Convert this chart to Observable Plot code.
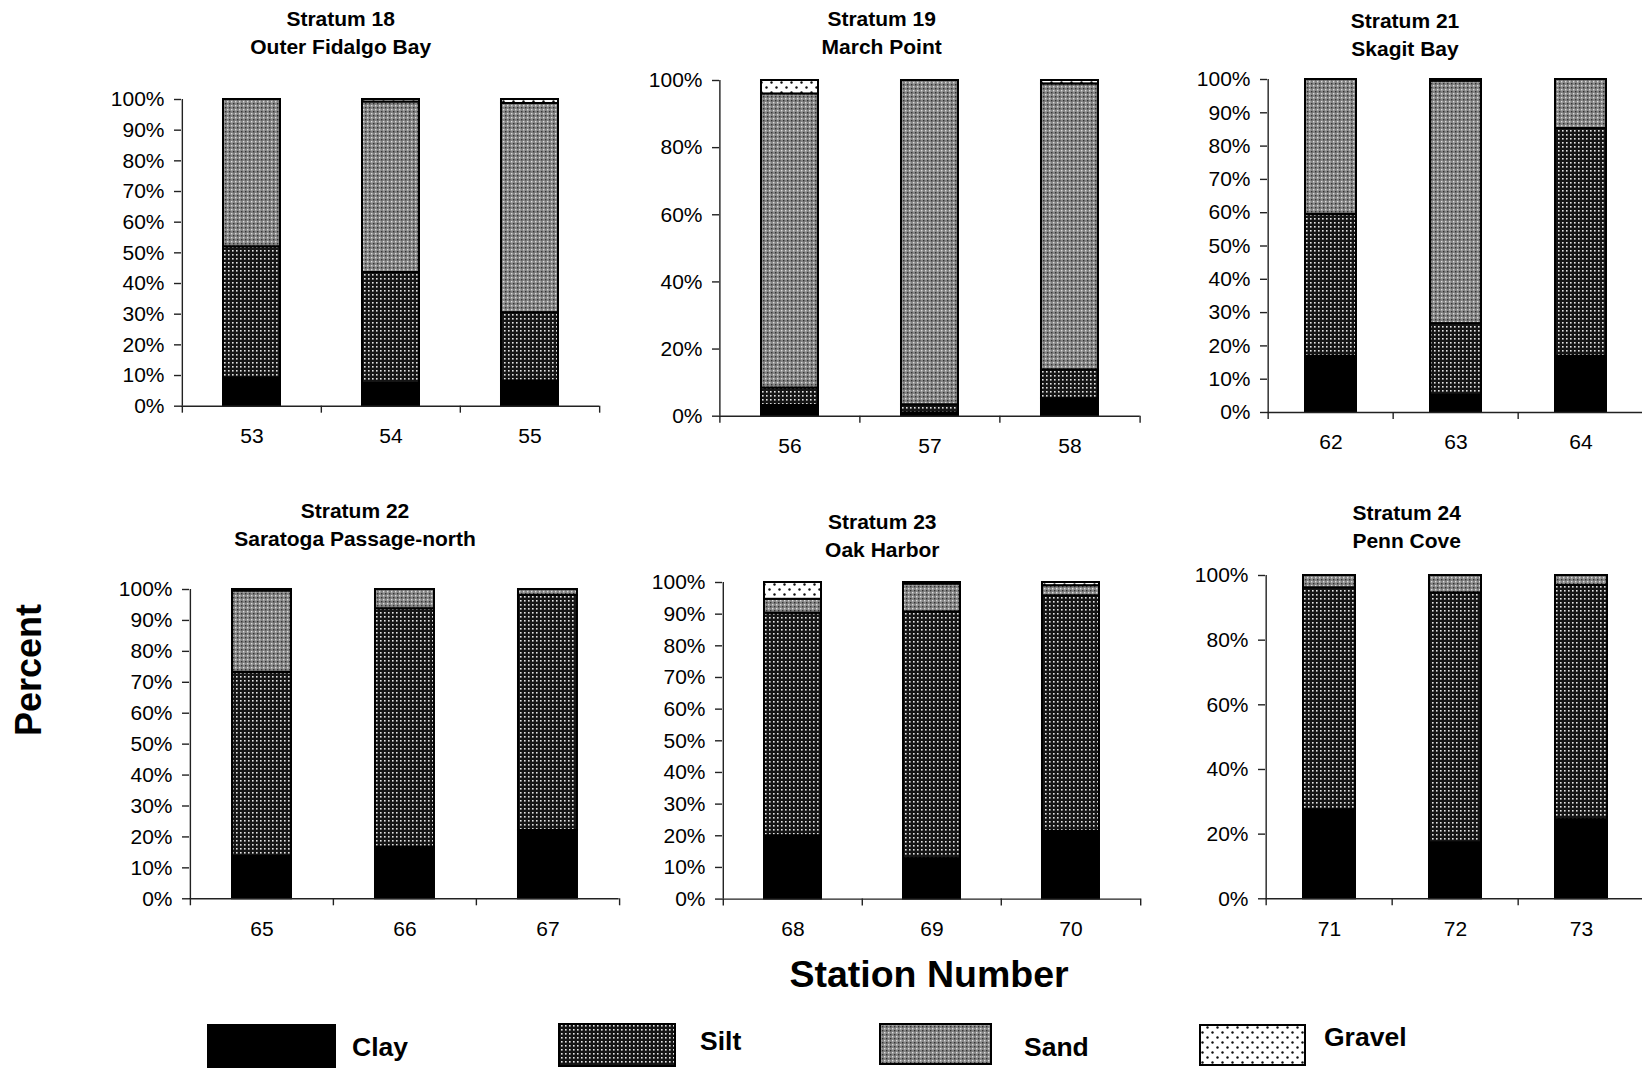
<!DOCTYPE html>
<html><head><meta charset="utf-8">
<script src="https://cdn.jsdelivr.net/npm/d3@7"></script>
<script src="https://cdn.jsdelivr.net/npm/@observablehq/plot@0.6"></script>
<style>
html,body{margin:0;padding:0;background:#fff;}
body{width:1642px;height:1068px;position:relative;overflow:hidden;font-family:"Liberation Sans",Arial,sans-serif;color:#000;}
.panel{position:absolute;}
.panel svg{max-width:none !important;overflow:visible;background:transparent !important;display:block;}
.title{position:absolute;transform:translateX(-50%);font-weight:bold;font-size:21px;line-height:28px;text-align:center;white-space:nowrap;}
.ylab{position:absolute;font-weight:bold;font-size:36px;transform:translate(-50%,-50%) rotate(-90deg);white-space:nowrap;}
.xlab{position:absolute;font-weight:bold;font-size:37.5px;transform:translate(-50%,-50%);white-space:nowrap;}
</style></head><body>
<svg width="0" height="0" style="position:absolute;left:0;top:0">
<defs>
  <pattern id="pat-clay" width="4" height="4" patternUnits="userSpaceOnUse"><rect width="4" height="4" fill="#000"/></pattern>
  <pattern id="pat-silt" width="4" height="4" patternUnits="userSpaceOnUse"><rect width="4" height="4" fill="#151515"/><rect x="1" y="1" width="1.6" height="1.6" fill="#e6e6e6"/></pattern>
  <pattern id="pat-sand" width="4" height="4" patternUnits="userSpaceOnUse"><rect width="4" height="4" fill="#858585"/><rect x="0" y="0" width="1.4" height="1.4" fill="#dcdcdc"/><rect x="2" y="2" width="1.4" height="1.4" fill="#333"/></pattern>
  <pattern id="pat-gravel" width="10" height="10" patternUnits="userSpaceOnUse"><rect width="10" height="10" fill="#fff"/><circle cx="2.5" cy="2.5" r="1.2" fill="#111"/><circle cx="7.5" cy="7.5" r="1.2" fill="#111"/></pattern>
</defs>
</svg>
<script>
// ---- data ----
const types = ["Clay", "Silt", "Sand", "Gravel"];
const patternFills = ["url(#pat-clay)", "url(#pat-silt)", "url(#pat-sand)", "url(#pat-gravel)"];

const strata = ["Stratum 18", "Stratum 19", "Stratum 21", "Stratum 22", "Stratum 23", "Stratum 24"];
const regions = ["Outer Fidalgo Bay", "March Point", "Skagit Bay", "Saratoga Passage-north", "Oak Harbor", "Penn Cove"];
const panelStations = [[53, 54, 55], [56, 57, 58], [62, 63, 64], [65, 66, 67], [68, 69, 70], [71, 72, 73]];

const stations = [53, 54, 55, 56, 57, 58, 62, 63, 64, 65, 66, 67, 68, 69, 70, 71, 72, 73];
const clay   = [9.2, 7.4, 8.2, 3.2, 1.0, 5.2, 16.9, 5.2, 16.9, 13.7, 16.7, 22.1, 20.0, 12.8, 21.4, 27.5, 17.3, 24.5];
const silt   = [42.8, 36.2, 22.3, 5.2, 2.4, 8.6, 42.6, 21.5, 68.4, 59.5, 77.1, 76.0, 70.3, 77.9, 74.4, 68.7, 77.3, 72.4];
const sand   = [48.0, 55.6, 68.2, 87.6, 96.6, 85.2, 40.5, 72.8, 14.7, 26.3, 6.2, 1.9, 4.4, 8.8, 3.2, 3.8, 5.4, 3.1];
const gravel = [0, 0.8, 1.3, 4.0, 0, 1.0, 0, 0.5, 0, 0.5, 0, 0, 5.3, 0.5, 1.0, 0, 0, 0];

const yTicks10 = [0, 10, 20, 30, 40, 50, 60, 70, 80, 90, 100];
const yTicks20 = [0, 20, 40, 60, 80, 100];
const panelTicks = [yTicks10, yTicks20, yTicks10, yTicks10, yTicks10, yTicks20];

const yTitle = "Percent";
const xTitle = "Station Number";

// ---- layout (pixels) ----
const layout = [
  {axisX: 181,   xEnd: 599,  yTop: 99.3,  yBottom: 406,   titleX: 340.7,  titleY: 19},
  {axisX: 719.3, xEnd: 1140, yTop: 80,    yBottom: 415.7, titleX: 881.7,  titleY: 19},
  {axisX: 1267,  xEnd: 1644, yTop: 79.3,  yBottom: 412.3, titleX: 1405,   titleY: 20.7},
  {axisX: 189.3, xEnd: 619,  yTop: 589,   yBottom: 898.3, titleX: 355,    titleY: 511},
  {axisX: 721.7, xEnd: 1140, yTop: 581.7, yBottom: 898.3, titleX: 882.3,  titleY: 521.7},
  {axisX: 1265,  xEnd: 1645, yTop: 575,   yBottom: 898.3, titleX: 1406.7, titleY: 513.3}
];

const values = {Clay: clay, Silt: silt, Sand: sand, Gravel: gravel};
const rows = [];
stations.forEach((s, i) => {
  types.forEach(t => {
    const v = values[t][i];
    if (v > 0) rows.push({station: s, type: t, value: v});
  });
});

const font = '"Liberation Sans", Arial, sans-serif';

panelStations.forEach((sts, p) => {
  const L = layout[p];
  const ml = 90, mr = 10, mt = 10, mb = 50;
  const w = L.xEnd - L.axisX;
  const h = L.yBottom - L.yTop;
  const step = w / sts.length;
  const k = h / 100;
  const data = rows.filter(r => sts.includes(r.station));

  const chart = Plot.plot({
    width: w + ml + mr,
    height: h + mt + mb,
    marginLeft: ml, marginRight: mr, marginTop: mt, marginBottom: mb,
    x: {type: "band", domain: sts, paddingInner: 0.59, paddingOuter: 0.295, axis: null},
    y: {domain: [0, 100], axis: null},
    color: {type: "ordinal", domain: types, range: patternFills},
    style: {fontFamily: font, fontSize: "21px", color: "#000", background: "transparent", overflow: "visible"},
    marks: [
      Plot.barY(data, {x: "station", y: "value", fill: "type", order: types, stroke: "#000", strokeWidth: 2}),
      Plot.ruleY([0], {stroke: "#222", strokeWidth: 1.4}),
      Plot.ruleX([sts[0]], {dx: -step / 2, y1: 0, y2: 100, stroke: "#222", strokeWidth: 1.4}),
      Plot.ruleX(sts, {dx: -step / 2, y1: 0, y2: -7 / k, stroke: "#222", strokeWidth: 1.4}),
      Plot.ruleX([sts[sts.length - 1]], {dx: step / 2, y1: 0, y2: -7 / k, stroke: "#222", strokeWidth: 1.4}),
      Plot.axisY({ticks: panelTicks[p], tickSize: 7, tickPadding: 10, tickFormat: d => d + "%", fontSize: 21, stroke: "#222", strokeWidth: 1.4, label: null}),
      Plot.axisX({tickSize: 0, tickPadding: 22, fontSize: 21, label: null})
    ]
  });
  const div = document.createElement("div");
  div.className = "panel";
  div.style.left = (L.axisX - ml) + "px";
  div.style.top = (L.yTop - mt) + "px";
  div.appendChild(chart);
  document.body.appendChild(div);

  const t = document.createElement("div");
  t.className = "title";
  t.style.left = L.titleX + "px";
  t.style.top = (L.titleY - 14) + "px";
  t.innerHTML = strata[p] + "<br>" + regions[p];
  document.body.appendChild(t);
});

const yl = document.createElement("div");
yl.className = "ylab"; yl.style.left = "29px"; yl.style.top = "670px"; yl.textContent = yTitle;
document.body.appendChild(yl);
const xl = document.createElement("div");
xl.className = "xlab"; xl.style.left = "929px"; xl.style.top = "974px"; xl.textContent = xTitle;
document.body.appendChild(xl);

// ---- legend ----
const legendLayout = [
  {x: 208, y: 1025, w: 127, h: 43, tx: 352, ty: 1047},
  {x: 559, y: 1024, w: 116, h: 42, tx: 700, ty: 1041},
  {x: 880, y: 1024, w: 111, h: 40, tx: 1024, ty: 1047},
  {x: 1200, y: 1025, w: 105, h: 40, tx: 1324, ty: 1037}
];
const ns = "http://www.w3.org/2000/svg";
const lg = document.createElementNS(ns, "svg");
lg.setAttribute("width", 1642); lg.setAttribute("height", 1068);
lg.style.position = "absolute"; lg.style.left = "0"; lg.style.top = "0"; lg.style.pointerEvents = "none";
types.forEach((t, i) => {
  const L = legendLayout[i];
  const r = document.createElementNS(ns, "rect");
  r.setAttribute("x", L.x); r.setAttribute("y", L.y); r.setAttribute("width", L.w); r.setAttribute("height", L.h);
  r.setAttribute("fill", patternFills[i]); r.setAttribute("stroke", "#000"); r.setAttribute("stroke-width", 2);
  lg.appendChild(r);
  const tx = document.createElementNS(ns, "text");
  tx.setAttribute("x", L.tx); tx.setAttribute("y", L.ty); tx.setAttribute("dy", "0.35em");
  tx.setAttribute("font-family", font); tx.setAttribute("font-weight", "bold"); tx.setAttribute("font-size", 26.5);
  tx.textContent = t;
  lg.appendChild(tx);
});
document.body.appendChild(lg);
</script>
</body></html>
